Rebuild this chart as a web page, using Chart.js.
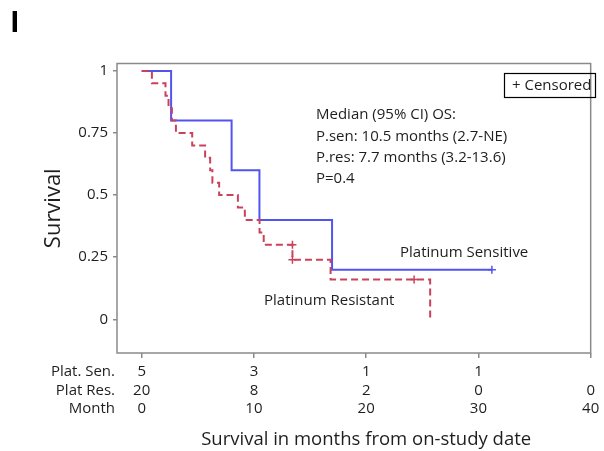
<!DOCTYPE html>
<html><head><meta charset="utf-8">
<script src="https://cdn.jsdelivr.net/npm/chart.js@4.4.1/dist/chart.umd.min.js"></script>
<style>html,body{margin:0;padding:0;background:#fff;}#wrap{width:604px;height:451px;}</style>
</head><body><div id="wrap"><canvas id="c" width="604" height="451"></canvas></div>
<script>
// ---- data ----
const monthTicks = [0, 10, 20, 30, 40];
const atRiskSen = ['5', '3', '1', '1', ''];
const atRiskRes = ['20', '8', '2', '0', '0'];
const rowLabels = ['Plat. Sen.', 'Plat Res.', 'Month'];
const yTicks = [0, 0.25, 0.5, 0.75, 1];
const yTickLabels = ['0', '0.25', '0.5', '0.75', '1'];

const senTimes = [0, 2.62, 8.01, 10.49, 16.96, 31.2];
const senSurv  = [1, 0.8, 0.6, 0.4, 0.2, 0.2];
const resTimes = [0, 0.91, 2.12, 2.39, 2.69, 3.05, 4.5, 5.65, 6.1, 6.3, 6.9, 8.57, 9.19, 10.5, 10.87, 13.43, 16.83, 25.7];
const resSurv  = [1, 0.95, 0.9, 0.85, 0.8, 0.75, 0.7, 0.65, 0.6, 0.55, 0.5, 0.45, 0.4, 0.35, 0.3, 0.24, 0.16, 0];
const senCensorTimes = [31.2];
const senCensorSurv  = [0.2];
const resCensorTimes = [13.43, 13.43, 24.27];
const resCensorSurv  = [0.3, 0.24, 0.16];

const statLines = ['Median (95% CI) OS:', 'P.sen: 10.5 months (2.7-NE)', 'P.res: 7.7 months (3.2-13.6)', 'P=0.4'];
const senLabel = 'Platinum Sensitive';
const resLabel = 'Platinum Resistant';
const legendText = '+ Censored';
const xTitle = 'Survival in months from on-study date';
const yTitle = 'Survival';
const panelLetter = 'I';

// ---- styles ----
const FONT = "'Open Sans', 'Noto Sans', sans-serif";
const BLUE = '#5353f0';
const RED = '#c9425a';
const TXT = '#1e1e1e';
const AXIS = '#8a8a8a';
const TICK_LEN = 5, TICK_PAD = 4.75, LINE_H = 18.5;

const pts = (xs, ys) => xs.map((x, i) => ({x, y: ys[i]}));

const extras = {
  id: 'extras',
  beforeDraw(chart) {
    const ctx = chart.ctx;
    ctx.save(); ctx.fillStyle = '#fff'; ctx.fillRect(0, 0, chart.width, chart.height); ctx.restore();
  },
  beforeDatasetsDraw(chart) {
    const {ctx, chartArea: a} = chart;
    ctx.save();
    ctx.strokeStyle = AXIS; ctx.lineWidth = 1.5;
    ctx.strokeRect(a.left, a.top, a.right - a.left, a.bottom - a.top);
    ctx.restore();
  },
  afterDraw(chart) {
    const {ctx, chartArea: a} = chart;
    const xs = chart.scales.x;
    ctx.save();
    ctx.fillStyle = TXT;
    ctx.textBaseline = 'middle';
    // at-risk row labels
    ctx.font = `15px ${FONT}`;
    ctx.textAlign = 'right';
    const y0 = xs.top + TICK_LEN + TICK_PAD + LINE_H / 2;
    rowLabels.forEach((t, i) => ctx.fillText(t, 115, y0 + i * LINE_H));
    // stats text
    ctx.textAlign = 'left';
    statLines.forEach((t, i) => ctx.fillText(t, 316, 115 + i * 21.3));
    ctx.fillText(senLabel, 400, 253);
    ctx.fillText(resLabel, 264, 301);
    // legend box
    ctx.fillText(legendText, 512, 85.5);
    ctx.strokeStyle = '#000'; ctx.lineWidth = 1.2;
    ctx.strokeRect(504.5, 73.5, 91, 24);
    // titles
    ctx.textAlign = 'center';
    ctx.font = `18.5px ${FONT}`;
    ctx.fillText(xTitle, (xs.getPixelForValue(0) + xs.getPixelForValue(40)) / 2, 440);
    ctx.save();
    ctx.translate(54, (a.top + a.bottom) / 2);
    ctx.rotate(-Math.PI / 2);
    ctx.font = `22px ${FONT}`;
    ctx.fillText(yTitle, 0, 0);
    ctx.restore();
    // panel letter
    ctx.textAlign = 'left';
    ctx.font = `bold 29px ${FONT}`;
    ctx.fillStyle = '#000';
    ctx.fillText(panelLetter, 10, 24);
    ctx.restore();
  }
};

new Chart(document.getElementById('c'), {
  type: 'line',
  data: {
    datasets: [
      {data: pts(resTimes, resSurv), borderColor: RED, borderWidth: 2, borderDash: [7, 4], stepped: true, pointRadius: 0, fill: false},
      {data: pts(senTimes, senSurv), borderColor: BLUE, borderWidth: 2, stepped: true, pointRadius: 0, fill: false},
      {data: pts(resCensorTimes, resCensorSurv), showLine: false, pointStyle: 'cross', pointRadius: 4, borderColor: RED, borderWidth: 1.5},
      {data: pts(senCensorTimes, senCensorSurv), showLine: false, pointStyle: 'cross', pointRadius: 4, borderColor: BLUE, borderWidth: 1.5}
    ]
  },
  options: {
    responsive: false,
    devicePixelRatio: 1,
    animation: false,
    layout: {padding: {left: 0, right: 9, top: 63.5, bottom: 0}},
    plugins: {legend: {display: false}, tooltip: {enabled: false}, title: {display: false}},
    scales: {
      x: {
        type: 'linear', min: -2.2, max: 40,
        afterFit(s) { s.height = 98; },
        afterBuildTicks(s) { s.ticks = monthTicks.map(v => ({value: v})); },
        border: {display: false},
        grid: {drawOnChartArea: false, drawTicks: true, tickLength: TICK_LEN, color: AXIS, lineWidth: 1.5},
        ticks: {
          autoSkip: false, maxRotation: 0, padding: TICK_PAD, color: TXT,
          font: {family: FONT, size: 15, lineHeight: LINE_H / 15},
          callback: (v, i) => [atRiskSen[i], atRiskRes[i], String(monthTicks[i])]
        }
      },
      y: {
        type: 'linear', min: -0.1357, max: 1.03,
        afterFit(s) { s.width = 117; },
        afterBuildTicks(s) { s.ticks = yTicks.map(v => ({value: v})); },
        border: {display: false},
        grid: {drawOnChartArea: false, drawTicks: true, tickLength: 4, color: AXIS, lineWidth: 1.5},
        ticks: {
          autoSkip: false, padding: 5, color: TXT,
          font: {family: FONT, size: 15},
          callback: (v, i) => yTickLabels[i]
        }
      }
    }
  },
  plugins: [extras]
});
</script></body></html>
